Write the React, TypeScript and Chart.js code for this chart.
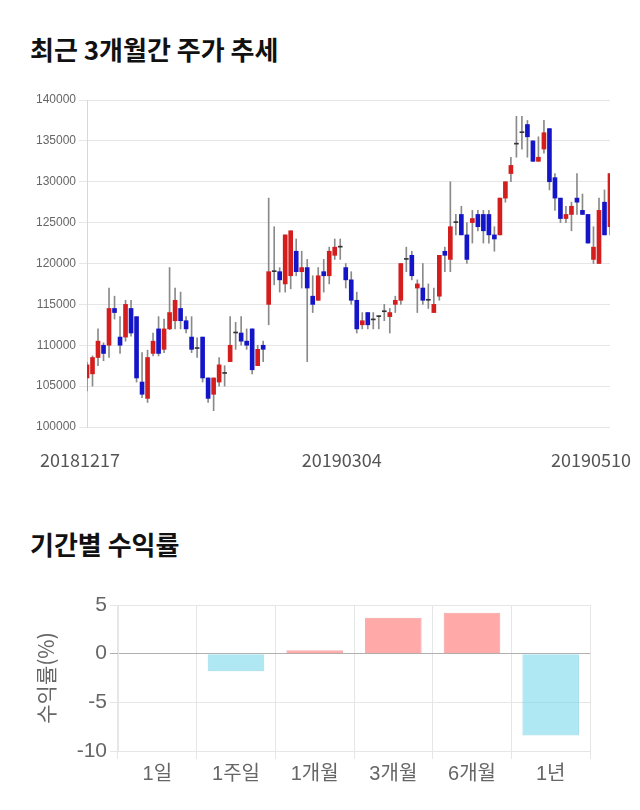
import React, { useEffect, useRef } from 'react';
import { Chart, registerables } from 'chart.js';

Chart.register(...registerables);
Chart.defaults.font.family = "'Noto Sans CJK KR', 'Noto Sans', sans-serif";

// ---- Price chart data ----
const dateLabels = ['20181217', '20190304', '20190510'];
const dateLabelIndex = [0, 47, 95];

const opens = [
  106000, 106500, 108500, 110000, 110000, 114500, 111000, 111000, 114500, 113500,
  105500, 103500, 109000, 112000, 109500, 112000, 113000, 114500, 113000, 111000,
  109600, 111000, 106000, 104000, 105500, 106550, 108000, 111500, 111500, 110500,
  112000, 107500, 110000, 115000, 119000, 119000, 117500, 118500, 121500, 119000,
  119500, 116000, 115500, 119000, 118500, 121000, 122000, 119500, 118000, 115500,
  112500, 114000, 113100, 113500, 114100, 113500, 115000, 115500, 120500, 121000,
  117000, 117000, 115500, 114000, 116000, 121500, 120500, 125000, 126000, 123500,
  125000, 126000, 126000, 126000, 123500, 123500, 128000, 131000, 134600, 136000,
  137000, 135000, 132500, 134000, 136500, 130500, 128000, 125500, 126000, 128000,
  126500, 126000, 120500, 120000, 127500, 124500,
];
const highs = [
  107900, 108700, 112000, 110300, 117000, 116000, 113500, 115500, 115500, 113500,
  109100, 109400, 111500, 113500, 113200, 119500, 117000, 116500, 113500, 113500,
  110900, 111000, 106000, 106000, 108500, 107500, 113500, 112800, 113500, 112000,
  112000, 110000, 110500, 128000, 124500, 119500, 123500, 124000, 123000, 121500,
  120500, 118500, 119500, 120500, 122000, 123000, 123000, 120000, 119000, 116500,
  114000, 114000, 114000, 113600, 115000, 114500, 116000, 120000, 122000, 121500,
  118000, 120000, 117500, 117000, 121000, 122000, 130000, 126000, 127000, 125000,
  126500, 126500, 126500, 126500, 124500, 128000, 130000, 133000, 138000, 138000,
  137500, 135000, 135500, 137500, 136500, 131000, 128000, 127000, 127500, 131000,
  128500, 126000, 124500, 128000, 129000, 131000,
];
const lows = [
  104400, 105000, 107500, 108100, 108500, 113200, 109000, 110500, 111100, 105500,
  103600, 103000, 108700, 108700, 109100, 111900, 112000, 112000, 111500, 109100,
  108500, 105500, 103000, 102000, 105000, 105000, 108000, 109500, 110000, 109500,
  106500, 107500, 108000, 112500, 117400, 116500, 116500, 116900, 118500, 117000,
  108000, 114000, 115500, 116500, 117500, 120500, 120500, 117000, 115000, 111500,
  112000, 112000, 112000, 112000, 113000, 111500, 114000, 115000, 119000, 118000,
  114000, 115000, 114500, 114000, 115500, 119000, 119000, 123500, 123500, 120000,
  122500, 124000, 122500, 122500, 121500, 123500, 127500, 130000, 133000, 134000,
  133000, 132500, 132500, 133500, 129000, 126500, 125000, 125000, 124000, 126000,
  126000, 122500, 120000, 120000, 123500, 123500,
];
const closes = [
  107600, 108500, 110500, 109000, 114500, 114000, 110000, 115000, 111500, 106000,
  104000, 108500, 110500, 109000, 112000, 114000, 115500, 113000, 112000, 109500,
  109600, 106000, 103500, 106000, 107600, 106550, 110000, 111500, 110500, 110000,
  107000, 109500, 109500, 119000, 119000, 118000, 123500, 124000, 119000, 119500,
  117000, 115000, 118500, 118500, 121500, 122000, 122000, 118000, 115500, 112000,
  113000, 112500, 113100, 113500, 114100, 114000, 115500, 120000, 120500, 118500,
  117500, 115500, 115500, 115000, 121000, 121000, 124500, 125000, 123500, 120500,
  125500, 124500, 124000, 123500, 123000, 128000, 130000, 132000, 134600, 136000,
  135500, 132500, 133000, 136000, 130000, 128000, 125500, 126000, 127000, 127500,
  126000, 122500, 122000, 126500, 123500, 131000,
];

// ---- Returns chart data ----
const periods = ['1일', '1주일', '1개월', '3개월', '6개월', '1년'];
const returns = [0, -1.8, 0.35, 3.7, 4.2, -8.4];

const UP = '#d41e1e';
const DOWN = '#1515c8';
const FLAT = '#333333';
const ARIAL = "Arial, 'Liberation Sans', 'Noto Sans CJK KR', sans-serif";

const xDateLabelPlugin = {
  id: 'xDateLabels',
  afterDraw(chart: any) {
    const { ctx, chartArea } = chart;
    const x = chart.scales.x;
    const shifts = [-7, -4, -19];
    ctx.save();
    ctx.font = "18px 'Noto Sans CJK KR', sans-serif";
    ctx.fillStyle = '#555';
    ctx.textAlign = 'center';
    ctx.textBaseline = 'middle';
    dateLabelIndex.forEach((idx, k) => {
      ctx.fillText(dateLabels[k], x.getPixelForValue(idx) + shifts[k], chartArea.bottom + 33);
    });
    ctx.restore();
  },
};

function PriceChart() {
  const ref = useRef<HTMLCanvasElement>(null);
  useEffect(() => {
    if (!ref.current) return;
    const labels = opens.map((_, i) => String(i));
    const colors = opens.map((o, i) => (closes[i] > o ? UP : closes[i] < o ? DOWN : FLAT));
    const chart = new Chart(ref.current, {
      type: 'bar',
      data: {
        labels,
        datasets: [
          {
            data: opens.map((o, i) => [o, closes[i]]),
            backgroundColor: colors,
            barThickness: 4,
            minBarLength: 1,
            grouped: false,
          } as any,
          {
            data: lows.map((l, i) => [l, highs[i]]),
            backgroundColor: '#8a8a8a',
            barThickness: 1,
            grouped: false,
          } as any,
        ],
      },
      options: {
        animation: false,
        responsive: false,
        maintainAspectRatio: false,
        layout: { padding: { top: 20, right: 30, bottom: 53, left: 0 } },
        plugins: { legend: { display: false }, tooltip: { enabled: false } },
        scales: {
          x: {
            type: 'category',
            offset: false,
            grid: { display: false },
            border: { display: false },
            ticks: { display: false },
            afterFit: (s: any) => {
              s.height = 0;
              s.paddingLeft = 0;
              s.paddingRight = 0;
            },
          },
          y: {
            min: 100000,
            max: 140000,
            ticks: {
              stepSize: 5000,
              color: '#666',
              font: { size: 12, family: ARIAL },
              callback: (v: any) => String(v),
            },
            grid: { color: '#e6e6e6' },
            border: { color: '#d8d8d8' },
            afterFit: (s: any) => {
              s.width = 87;
            },
          },
        },
      } as any,
      plugins: [xDateLabelPlugin],
    });
    return () => chart.destroy();
  }, []);
  return (
    <canvas
      ref={ref}
      width={640}
      height={400}
      style={{ position: 'absolute', left: 0, top: 80, width: 640, height: 400 }}
    />
  );
}

function ReturnChart() {
  const ref = useRef<HTMLCanvasElement>(null);
  useEffect(() => {
    if (!ref.current) return;
    const chart = new Chart(ref.current, {
      type: 'bar',
      data: {
        labels: periods,
        datasets: [
          {
            data: returns,
            backgroundColor: returns.map((v) => (v >= 0 ? 'rgba(255,99,99,0.55)' : 'rgba(110,214,234,0.55)')),
            borderColor: returns.map((v) => (v >= 0 ? 'rgba(240,120,120,0.6)' : 'rgba(110,200,220,0.6)')),
            borderWidth: 1,
          },
        ],
      },
      options: {
        animation: false,
        responsive: false,
        maintainAspectRatio: false,
        layout: { padding: { top: 20, right: 50, bottom: 9, left: 0 } },
        plugins: { legend: { display: false }, tooltip: { enabled: false } },
        scales: {
          x: {
            grid: { color: '#e6e6e6' },
            border: { color: '#e6e6e6' },
            ticks: { color: '#666', font: { size: 20, family: ARIAL } },
            afterFit: (s: any) => {
              s.height = 40;
            },
          },
          y: {
            min: -10,
            max: 5,
            ticks: { stepSize: 5, color: '#666', font: { size: 21, family: ARIAL } },
            grid: { color: (c: any) => (c.tick && c.tick.value === 0 ? '#b0b0b0' : '#e6e6e6') },
            border: { color: '#e6e6e6' },
            title: {
              display: true,
              text: '수익률(%)',
              color: '#666',
              font: { size: 21 },
              padding: { top: 33, bottom: 0 },
            },
            afterFit: (s: any) => {
              s.width = 118;
            },
          },
        },
      } as any,
    });
    return () => chart.destroy();
  }, []);
  return (
    <canvas
      ref={ref}
      width={640}
      height={215}
      style={{ position: 'absolute', left: 0, top: 585, width: 640, height: 215 }}
    />
  );
}

const titleStyle: React.CSSProperties = {
  position: 'absolute',
  left: 30,
  fontFamily: "'Noto Sans CJK KR', sans-serif",
  fontWeight: 700,
  fontSize: 26,
  lineHeight: '26px',
  color: '#111',
  margin: 0,
  whiteSpace: 'nowrap',
};

export default function App() {
  return (
    <div style={{ position: 'absolute', left: 0, top: 0, width: 640, height: 810, background: '#fff' }}>
      <div style={{ ...titleStyle, top: 36 }}>최근 3개월간 주가 추세</div>
      <PriceChart />
      <div style={{ ...titleStyle, top: 531 }}>기간별 수익률</div>
      <ReturnChart />
    </div>
  );
}
